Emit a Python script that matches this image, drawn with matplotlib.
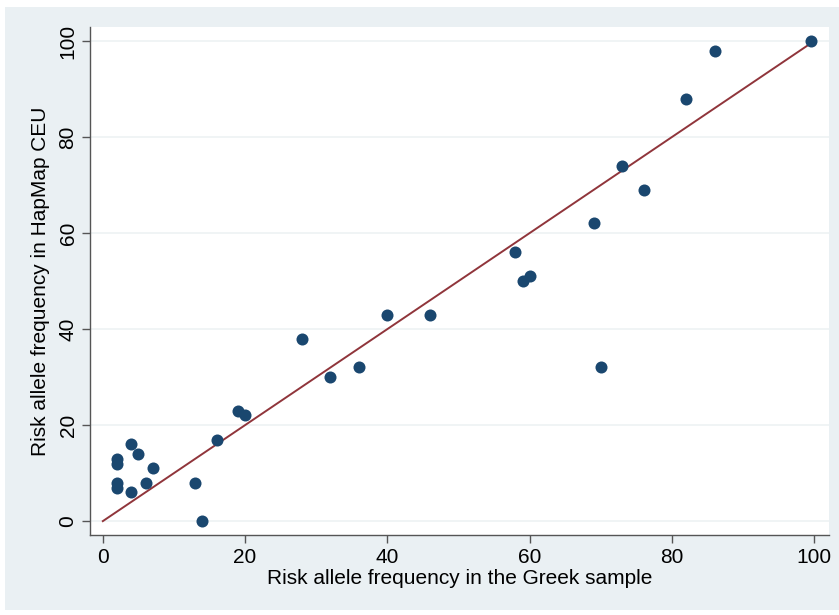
import matplotlib.pyplot as plt
from matplotlib.patches import Rectangle
from matplotlib import font_manager

# risk allele frequencies (%)
greek = [2, 2, 2, 2, 4, 5, 4, 6, 7, 13, 14, 16, 19, 20, 28, 32, 36, 40, 46,
         58, 59, 60, 69, 70, 73, 76, 82, 86, 99.5]
hapmap = [13, 12, 8, 7, 16, 14, 6, 8, 11, 8, 0, 17, 23, 22, 38, 30, 32, 43, 43,
          56, 50, 51, 62, 32, 74, 69, 88, 98, 100]
line_x = [0, 99.5]
line_y = [0, 99.5]
ticks = [0, 20, 40, 60, 80, 100]

names = {f.name for f in font_manager.fontManager.ttflist}
family = "Liberation Sans Narrow" if "Liberation Sans Narrow" in names else "Liberation Sans"
plt.rcParams["font.family"] = family

BG = "#eaf0f3"
NAVY = "#1a476f"
MAROON = "#90353b"

fig = plt.figure(figsize=(8.39, 6.15), dpi=100)
fig.patches.append(Rectangle((5 / 839, 5 / 615), 1, (615 - 12) / 615,
                             transform=fig.transFigure, facecolor=BG,
                             edgecolor="none", zorder=-1))
ax = fig.add_axes([0.1073, 0.130, 0.881, 0.826])
ax.set_facecolor("white")

ax.scatter(greek, hapmap, s=75, color=NAVY, zorder=3, linewidths=0)
ax.plot(line_x, line_y, color=MAROON, linewidth=1.4, zorder=2)

ax.set_xlim(-1.8, 102.1)
ax.set_ylim(-2.9, 102.9)
ax.set_xticks(ticks)
ax.set_yticks(ticks)
ax.grid(axis="y", color="#eef2f4", linewidth=1.2)
ax.set_axisbelow(True)

for side in ("top", "right"):
    ax.spines[side].set_visible(False)
for side in ("left", "bottom"):
    ax.spines[side].set_color("#555555")
    ax.spines[side].set_linewidth(1.0)

ax.tick_params(axis="both", direction="out", length=6, width=1,
               color="#555555", labelsize=15, pad=3)
for lbl in ax.get_yticklabels():
    lbl.set_rotation(90)
    lbl.set_va("center")

ax.set_xlabel("Risk allele frequency in the Greek sample", fontsize=15, labelpad=2)
ax.set_ylabel("Risk allele frequency in HapMap CEU", fontsize=15, labelpad=6)

fig.savefig("out.png", dpi=100)
